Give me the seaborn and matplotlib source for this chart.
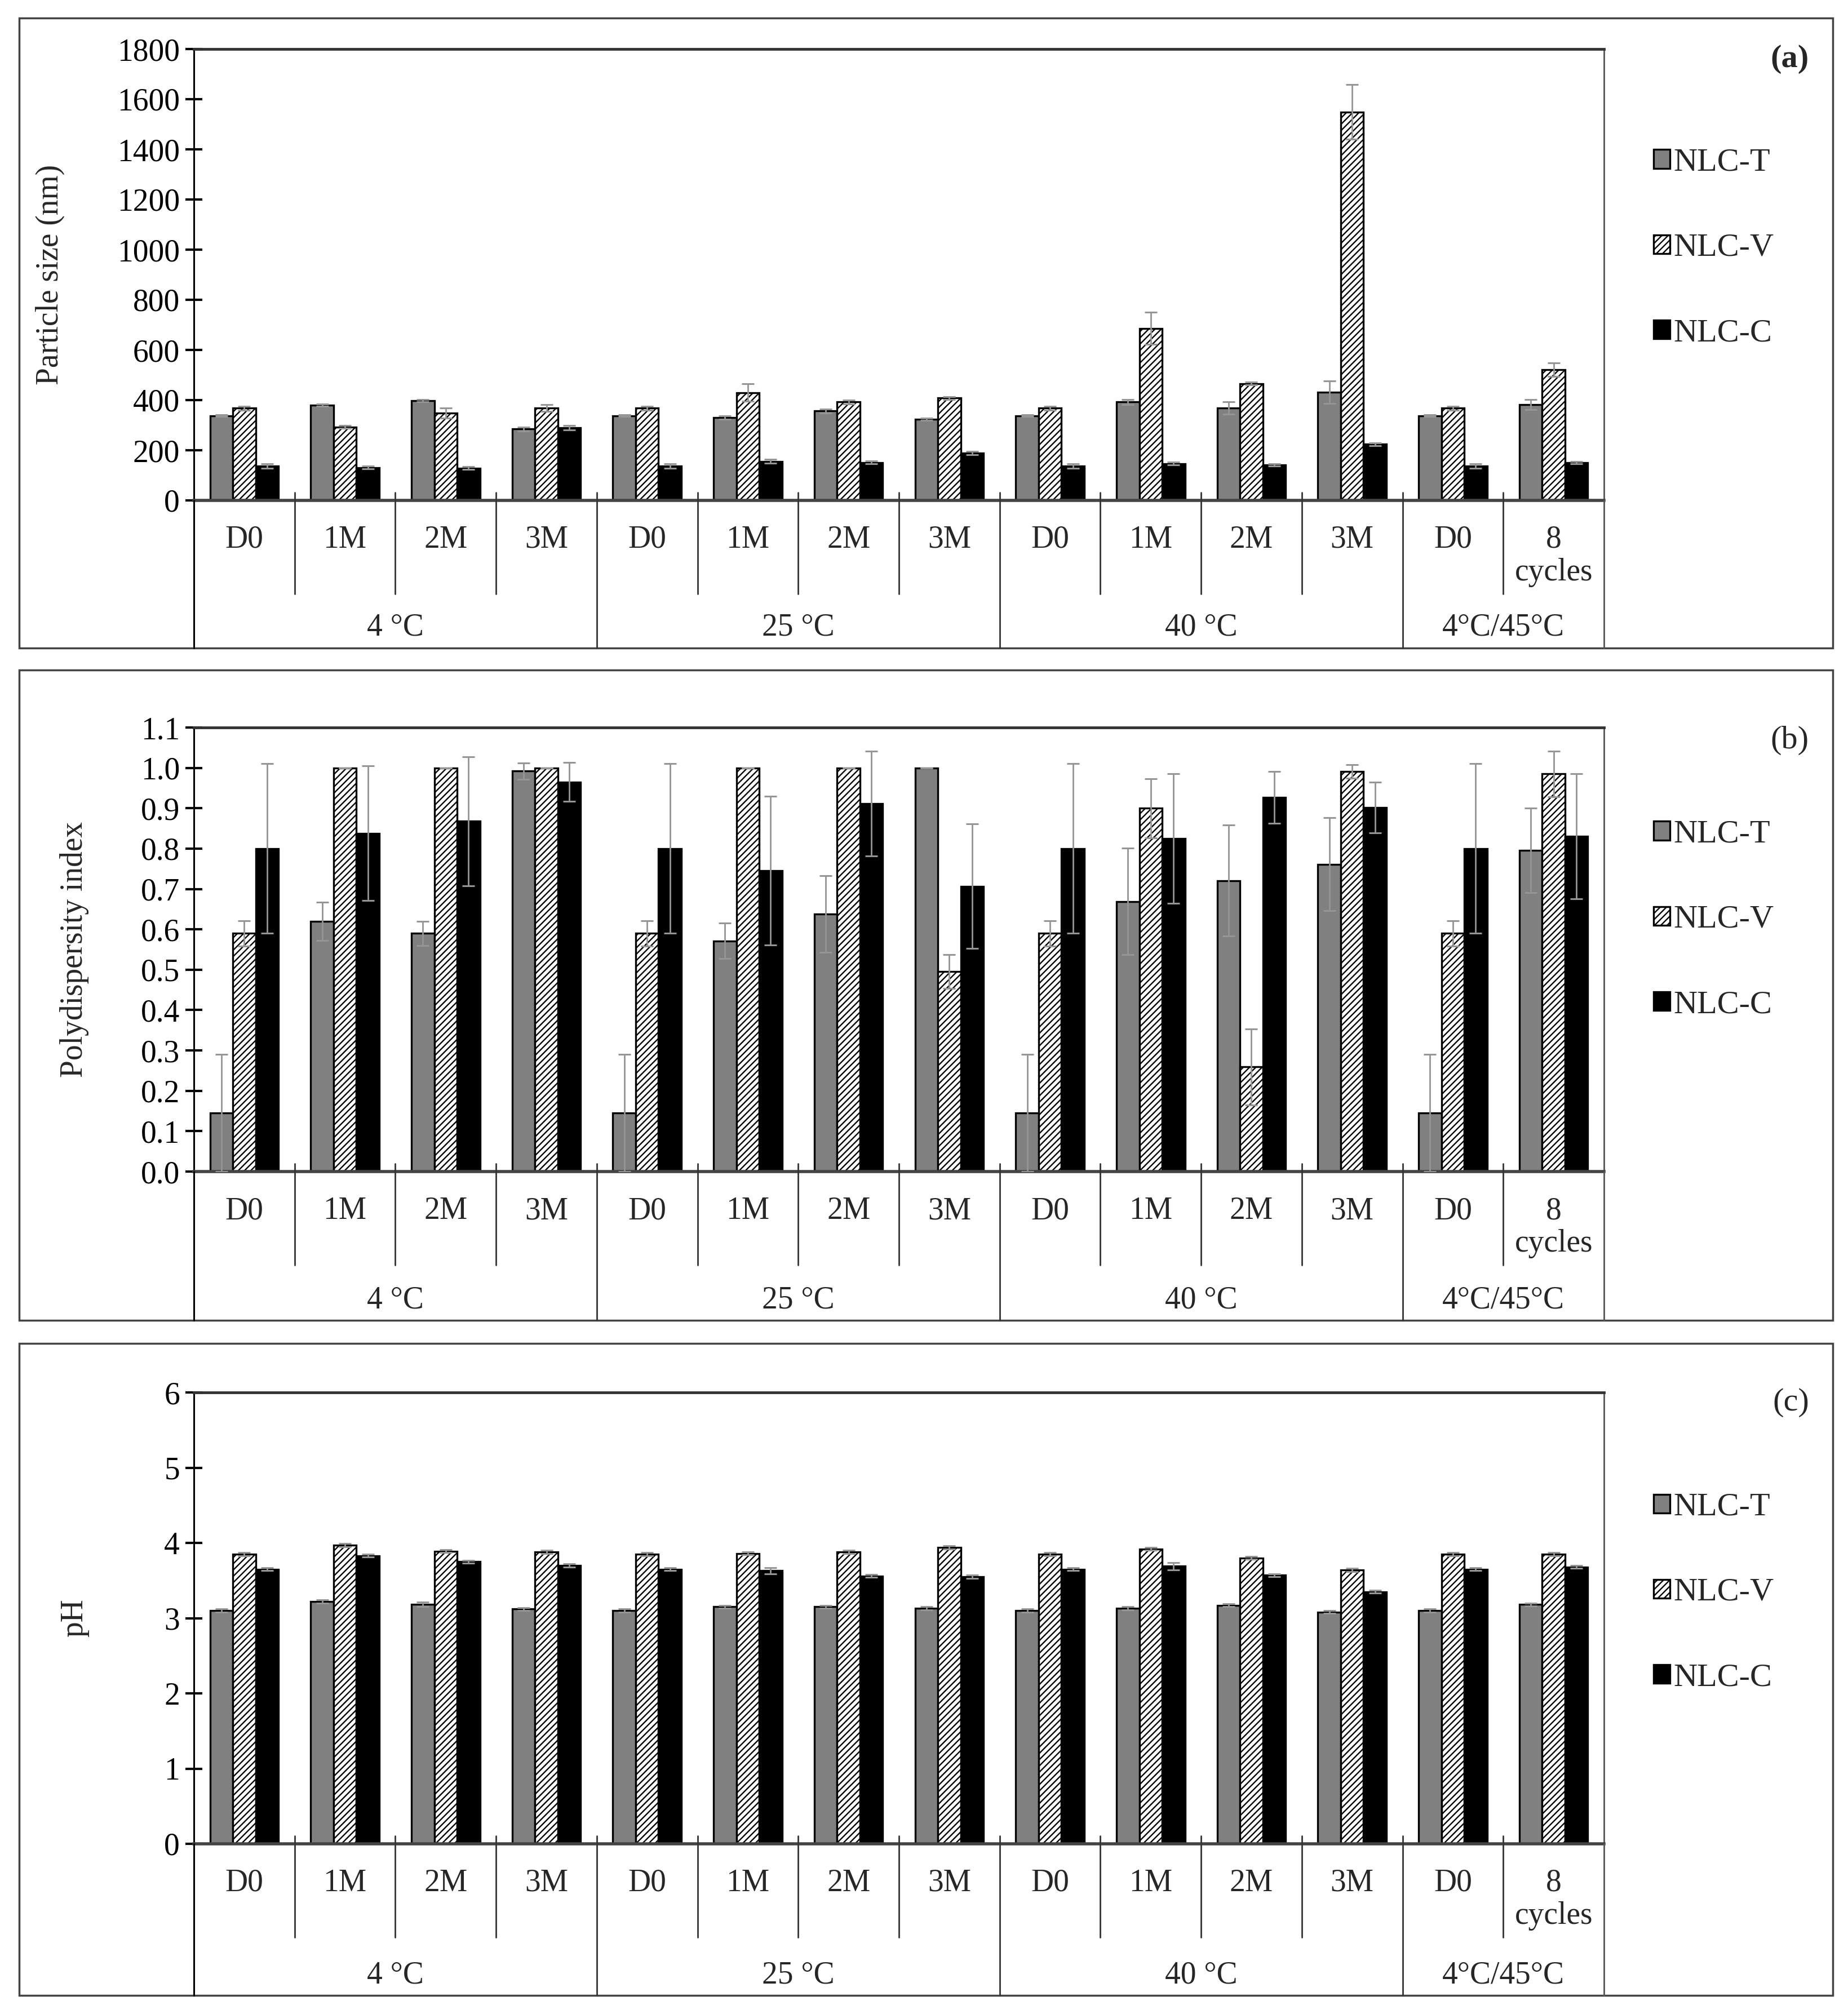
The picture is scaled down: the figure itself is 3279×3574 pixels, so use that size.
import numpy as np
import pandas as pd
import seaborn as sns
import matplotlib.pyplot as plt
import matplotlib.transforms as mtransforms
from matplotlib.lines import Line2D
from matplotlib.patches import Rectangle
from matplotlib.ticker import FormatStrFormatter

sns.set_theme(style='white')
plt.rcParams['font.family'] = ['Liberation Serif', 'DejaVu Serif']
plt.rcParams['hatch.linewidth'] = 1.7

# ---- data ----
samples = ['NLC-T', 'NLC-V', 'NLC-C']
time_labels = ['D0', '1M', '2M', '3M', 'D0', '1M', '2M', '3M',
               'D0', '1M', '2M', '3M', 'D0', '8\ncycles']
groups = ['4 °C', '25 °C', '40 °C', '4°C/45°C']
group_sizes = [4, 4, 4, 2]

# (a) particle size (nm)
size_T = [338, 380, 398, 285, 338, 330, 357, 323, 338, 393, 368, 432, 338, 382]
size_T_err = [4, 5, 5, 8, 4, 6, 8, 5, 4, 10, 25, 45, 4, 20]
size_V = [368, 293, 348, 368, 368, 430, 393, 408, 368, 686, 466, 1549, 368, 522]
size_V_err = [8, 5, 20, 13, 8, 35, 8, 6, 8, 64, 6, 109, 8, 27]
size_C = [137, 131, 129, 290, 137, 156, 151, 189, 137, 147, 141, 224, 137, 151]
size_C_err = [8, 5, 5, 8, 8, 8, 6, 6, 8, 6, 5, 5, 8, 5]

# (b) polydispersity index
pdi_T = [0.145, 0.62, 0.59, 0.992, 0.145, 0.571, 0.638, 1.0, 0.145, 0.669, 0.721, 0.761, 0.145, 0.796]
pdi_T_err = [0.145, 0.047, 0.03, 0.02, 0.145, 0.044, 0.095, 0.0, 0.145, 0.132, 0.137, 0.115, 0.145, 0.105]
pdi_V = [0.59, 1.0, 1.0, 1.0, 0.59, 1.0, 1.0, 0.495, 0.59, 0.90, 0.259, 0.991, 0.59, 0.985]
pdi_V_err = [0.031, 0.0, 0.0, 0.0, 0.031, 0.0, 0.0, 0.042, 0.031, 0.073, 0.094, 0.017, 0.031, 0.057]
pdi_C = [0.80, 0.838, 0.868, 0.965, 0.80, 0.745, 0.912, 0.707, 0.80, 0.825, 0.927, 0.902, 0.80, 0.83]
pdi_C_err = [0.21, 0.167, 0.16, 0.048, 0.21, 0.184, 0.13, 0.154, 0.21, 0.16, 0.064, 0.063, 0.21, 0.155]

# (c) pH
ph_T = [3.10, 3.22, 3.18, 3.12, 3.10, 3.15, 3.15, 3.13, 3.10, 3.13, 3.17, 3.08, 3.10, 3.18]
ph_T_err = [0.02, 0.02, 0.03, 0.02, 0.02, 0.02, 0.02, 0.02, 0.02, 0.02, 0.02, 0.02, 0.02, 0.02]
ph_V = [3.85, 3.97, 3.89, 3.88, 3.85, 3.86, 3.88, 3.94, 3.85, 3.92, 3.80, 3.64, 3.85, 3.85]
ph_V_err = [0.02, 0.02, 0.02, 0.02, 0.02, 0.02, 0.02, 0.02, 0.02, 0.02, 0.02, 0.02, 0.02, 0.02]
ph_C = [3.65, 3.83, 3.75, 3.70, 3.65, 3.63, 3.56, 3.55, 3.65, 3.69, 3.57, 3.35, 3.65, 3.68]
ph_C_err = [0.02, 0.02, 0.02, 0.02, 0.02, 0.04, 0.02, 0.02, 0.02, 0.05, 0.02, 0.02, 0.02, 0.02]

colors = {'NLC-T': '#808080', 'NLC-V': 'white', 'NLC-C': 'black'}

# ---- layout (pixels of the 3279x3574 output) ----
W, H = 3279, 3574
AX_L, AX_R = 344, 2846
BOX_L, BOX_R = 34, 3252
FS = 40


def fx(px):
    return px / W


def fy(py):
    return 1 - py / H


fig = plt.figure(figsize=(W / 100, H / 100), dpi=100)


def draw_panel(box_top, box_bot, ax_top, ax_bot, T, Te, V, Ve, C, Ce,
               ylim, yticks, fmt, ylabel, label_x, tag, tag_y, tag_bold, leg_y):
    ax = fig.add_axes([fx(AX_L), fy(ax_bot), fx(AX_R) - fx(AX_L), fy(ax_top) - fy(ax_bot)])
    n = len(time_labels)
    df = pd.DataFrame({'pos': list(range(n)) * 3,
                       'sample': np.repeat(samples, n),
                       'value': T + V + C})
    sns.barplot(data=df, x='pos', y='value', hue='sample', hue_order=samples,
                palette=colors, saturation=1, width=0.68, gap=0,
                edgecolor='black', linewidth=2.4, errorbar=None,
                legend=False, ax=ax)
    conts = list(ax.containers)
    for b in conts[1]:
        b.set_hatch('///')
    for cont, err in zip(conts, [Te, Ve, Ce]):
        xs = [b.get_x() + b.get_width() / 2 for b in cont]
        ys = [b.get_height() for b in cont]
        ax.errorbar(xs, ys, yerr=err, fmt='none', ecolor='#959595',
                    elinewidth=2.0, capsize=8, capthick=2.2, zorder=5)

    ax.set_xlim(-0.5, n - 0.5)
    ax.set_ylim(*ylim)
    ax.set_yticks(yticks)
    ax.yaxis.set_major_formatter(FormatStrFormatter(fmt))
    ax.set_xticks([])
    ax.set_xlabel('')
    ax.set_ylabel(ylabel, fontsize=FS)
    ax.yaxis.set_label_coords((label_x - AX_L) / (AX_R - AX_L), 0.5)
    ax.tick_params(axis='y', left=True, direction='inout', length=22, width=3,
                   labelsize=FS, pad=7, color='black', labelcolor='black')
    ax.spines['top'].set_color('#333333')
    ax.spines['top'].set_linewidth(3.5)
    ax.spines['left'].set_color('black')
    ax.spines['left'].set_linewidth(2.2)
    ax.spines['bottom'].set_color('#444444')
    ax.spines['bottom'].set_linewidth(4)
    ax.spines['right'].set_color('#555555')
    ax.spines['right'].set_linewidth(2)

    # two-level category axis below the plot
    trans = mtransforms.blended_transform_factory(ax.transData, fig.transFigure)
    bounds = np.cumsum([0] + group_sizes)
    for k in range(1, n):
        x = k - 0.5
        bottom = box_bot if k in bounds else ax_bot + 166
        fig.add_artist(Line2D([x, x], [fy(ax_bot - 14), fy(bottom)], transform=trans,
                              color='#333333', lw=2))
    for x, c, lw in [(-0.5, 'black', 2.2), (n - 0.5, '#555555', 2)]:
        fig.add_artist(Line2D([x, x], [fy(ax_bot), fy(box_bot)], transform=trans,
                              color=c, lw=lw))
    for i, lab in enumerate(time_labels):
        ax.text(i, fy(ax_bot + 44), lab, transform=trans, ha='center', va='top',
                fontsize=FS, linespacing=1.15)
    for g, s, e in zip(groups, bounds[:-1], bounds[1:]):
        ax.text((s + e - 1) / 2, fy(box_bot - 36), g, transform=trans,
                ha='center', va='center', fontsize=FS)

    fig.add_artist(Rectangle((fx(BOX_L), fy(box_bot)), fx(BOX_R) - fx(BOX_L),
                             fy(box_top) - fy(box_bot), transform=fig.transFigure,
                             fill=False, edgecolor='#444444', lw=2.5))
    fig.text(fx(3210), fy(tag_y), tag, ha='right', va='center', fontsize=42,
             fontweight='bold' if tag_bold else 'normal')
    ax.legend(conts, samples, loc='center left', bbox_to_anchor=(fx(2934), fy(leg_y)),
              bbox_transform=fig.transFigure, frameon=False, fontsize=42,
              handlelength=0.5, handleheight=0.5, handletextpad=0.1,
              labelspacing=1.7, borderpad=0, borderaxespad=0)
    return ax


draw_panel(32, 1150, 87, 888, size_T, size_T_err, size_V, size_V_err, size_C, size_C_err,
           (0, 1800), np.arange(0, 1801, 200), '%d', 'Particle size (nm)', 115,
           '(a)', 105, True, 440)
draw_panel(1189, 2343, 1291, 2079, pdi_T, pdi_T_err, pdi_V, pdi_V_err, pdi_C, pdi_C_err,
           (0, 1.1), np.arange(0, 1.101, 0.1), '%.1f', 'Polydispersity index', 158,
           '(b)', 1314, False, 1632)
draw_panel(2384, 3541, 2471, 3272, ph_T, ph_T_err, ph_V, ph_V_err, ph_C, ph_C_err,
           (0, 6), np.arange(0, 7, 1), '%d', 'pH', 158,
           '(c)', 2489, False, 2826)

fig.savefig('out.png', dpi=100, facecolor='white')
